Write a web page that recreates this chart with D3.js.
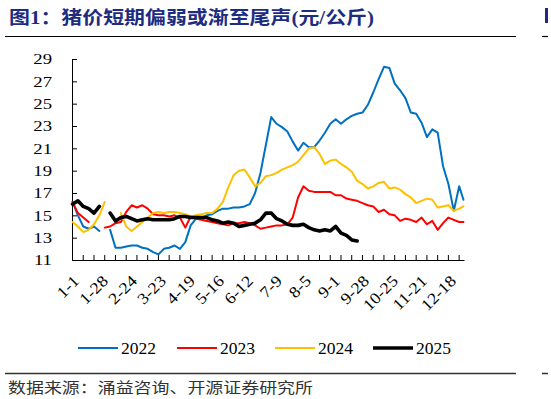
<!DOCTYPE html>
<html>
<head>
<meta charset="utf-8">
<script src="https://cdn.jsdelivr.net/npm/d3@7"></script>
<style>
  body { margin: 0; background: #fff; }
  svg { display: block; }
</style>
</head>
<body>
<div class="chart"></div>
<script>
// sampled day-of-year (0 = 1-1), every 5 days
var days = [0,5,10,15,20,25,30,35,40,45,50,55,60,65,70,75,80,85,90,95,100,105,110,115,120,125,130,135,140,145,150,155,160,165,170,175,180,185,190,195,200,205,210,215,220,225,230,235,240,245,250,255,260,265,270,275,280,285,290,295,300,305,310,315,320,325,330,335,340,345,350,355,360,364];

var y2022 = [16.2,15.0,14.0,13.8,14.0,13.6,null,13.7,12.1,12.1,12.2,12.3,12.3,12.1,12.0,11.7,11.5,12.0,12.1,12.3,12.0,12.6,14.1,14.7,14.8,15.0,15.1,15.4,15.6,15.6,15.7,15.7,15.8,16.0,17.0,18.8,21.3,23.8,23.2,22.9,22.5,21.6,20.8,21.5,21.1,21.1,21.7,22.4,23.2,23.6,23.2,23.6,23.9,24.1,24.2,24.9,26.0,27.2,28.3,28.2,26.8,26.2,25.5,24.2,24.1,23.3,22.0,22.7,22.4,19.4,17.8,15.4,17.6,16.4];
var y2023 = [16.2,15.2,14.8,14.4,null,null,13.9,14.0,14.3,14.4,15.3,15.9,15.7,15.9,15.6,15.1,15.0,15.0,14.9,15.0,14.8,13.9,14.9,14.7,14.6,14.5,14.4,14.3,14.2,14.1,14.3,14.3,14.4,14.3,14.1,13.8,13.9,14.0,14.1,14.1,14.2,14.8,16.6,17.6,17.2,17.1,17.1,17.1,17.1,16.8,16.8,16.5,16.4,16.3,16.1,15.9,15.8,15.3,15.5,15.1,15.0,14.5,14.7,14.6,14.4,14.8,14.2,14.5,13.7,14.3,14.8,14.6,14.4,14.4];
var y2024 = [14.4,14.0,13.5,13.7,14.2,15.0,16.2,null,null,15.2,14.0,13.6,14.0,14.4,14.8,15.2,15.3,15.2,15.3,15.3,15.2,15.1,14.9,15.0,15.1,15.2,15.2,15.6,16.2,17.5,18.6,19.0,19.1,18.4,17.6,17.9,18.5,18.6,18.8,19.1,19.3,19.5,19.8,20.4,21.0,21.1,20.5,19.6,19.9,20.0,19.6,19.3,18.9,18.1,17.8,17.4,17.6,17.9,18.0,17.4,17.5,17.3,16.9,16.6,16.1,16.3,16.5,16.4,15.7,15.8,15.9,15.4,15.6,15.8];
var y2025 = [16.0,16.3,15.8,15.6,15.2,15.8,null,15.2,14.5,14.8,14.9,14.7,14.5,14.6,14.7,14.6,14.6,14.6,14.6,14.7,14.9,14.9,14.8,14.8,14.8,14.8,14.6,14.5,14.3,14.4,14.3,14.0,14.1,14.2,14.3,14.6,15.2,15.2,14.7,14.5,14.2,14.1,14.1,14.2,13.9,13.7,13.6,13.7,13.6,14.0,13.4,13.2,12.8,12.7,null,null,null,null,null,null,null,null,null,null,null,null,null,null,null,null,null,null,null,null];

var seriesNames = ["2022", "2023", "2024", "2025"];
var seriesColors = ["#0070C0", "#FF0000", "#FFC000", "#000000"];
var seriesWidths = [2, 2, 2, 3.6];

var tickDays = [0,27,54,81,108,135,162,189,216,243,270,297,324,351];
var tickLabels = ["1-1","1-28","2-24","3-23","4-19","5-16","6-12","7-9","8-5","9-1","9-28","10-25","11-21","12-18"];
var yTicks = [11,13,15,17,19,21,23,25,27,29];

var titleText = "图1：猪价短期偏弱或渐至尾声(元/公斤)";
var sourceText = "数据来源：涌益咨询、开源证券研究所";

var serif = "'Liberation Serif', 'Times New Roman', serif";
var cjk = "'Liberation Serif', 'Noto Sans CJK SC', sans-serif";

var W = 551, H = 399;
var plot = {left: 72, right: 464, top: 59, bottom: 260};

var svg = d3.select(".chart").append("svg")
    .attr("width", W).attr("height", H)
    .style("background", "#fff");

function stretch(sel, k) {
    sel.each(function () {
        var w = this.getComputedTextLength();
        d3.select(this).attr("textLength", w * k).attr("lengthAdjust", "spacingAndGlyphs");
    });
}

// title
svg.append("text")
    .attr("x", 9).attr("y", 24)
    .attr("fill", "#1E2C80")
    .style("font-family", cjk)
    .style("font-weight", "bold")
    .style("font-size", "18px")
    .attr("textLength", 365).attr("lengthAdjust", "spacingAndGlyphs")
    .text(titleText);

svg.append("line").attr("x1", 5).attr("x2", 516).attr("y1", 36.5).attr("y2", 36.5)
    .attr("stroke", "#000").attr("stroke-width", 1.2);
// sliver of the neighbouring column
svg.append("rect").attr("x", 545).attr("y", 8).attr("width", 3).attr("height", 15).attr("fill", "#1E2C80");
svg.append("line").attr("x1", 542).attr("x2", 548).attr("y1", 36.5).attr("y2", 36.5).attr("stroke", "#000").attr("stroke-width", 1.2);
svg.append("line").attr("x1", 542).attr("x2", 548).attr("y1", 373.5).attr("y2", 373.5).attr("stroke", "#333").attr("stroke-width", 1.5);

// scales
var x = d3.scaleLinear().domain([0, 365]).range([plot.left, plot.right]);
var y = d3.scaleLinear().domain([11, 29]).range([plot.bottom, plot.top]);

// y axis, ticks pointing inward
var yAxis = d3.axisLeft(y).tickValues(yTicks).tickSize(-5).tickPadding(20).tickFormat(d3.format("d"));
var y_g = svg.append("g").attr("transform", "translate(" + plot.left + ",0)").call(yAxis);
y_g.selectAll("path, line").attr("stroke", "#000").attr("stroke-width", 1);
y_g.selectAll("text")
    .style("font-family", serif).style("font-size", "15px").attr("fill", "#000")
    .call(stretch, 1.25);

// x axis ticks every 10 days
var xTickVals = d3.range(0, 361, 10);
var xAxis = d3.axisBottom(x).tickValues(xTickVals).tickSize(-5).tickSizeOuter(0).tickFormat("");
var x_g = svg.append("g").attr("transform", "translate(0," + plot.bottom + ")").call(xAxis);
x_g.selectAll("path, line").attr("stroke", "#000").attr("stroke-width", 1);

// x labels
var xLab = d3.axisBottom(x).tickValues(tickDays.map(function (d) { return d + 0.5; }))
    .tickSize(0).tickFormat(function (d, i) { return tickLabels[i]; });
var xl_g = svg.append("g").attr("transform", "translate(0," + plot.bottom + ")").call(xLab);
xl_g.select(".domain").remove();
xl_g.selectAll("text")
    .style("font-family", serif).style("font-size", "16px").attr("fill", "#000")
    .style("text-anchor", "end")
    .attr("dy", null).attr("y", 0)
    .attr("transform", "translate(7,22) rotate(-45)")
    .call(stretch, 1.12);

// lines
var seriesValues = [y2022, y2023, y2024, y2025];
var line = d3.line()
    .defined(function (d) { return d[1] != null; })
    .x(function (d) { return x(d[0] + 0.5); })
    .y(function (d) { return y(d[1]); });

seriesValues.forEach(function (vals, i) {
    var pts = days.map(function (d, j) { return [d, vals[j]]; });
    svg.append("path")
        .datum(pts)
        .attr("d", line)
        .attr("fill", "none")
        .attr("stroke", seriesColors[i])
        .attr("stroke-width", seriesWidths[i])
        .attr("stroke-linejoin", "round")
        .attr("stroke-linecap", "round");
});

// legend
var legX = [78, 177, 275, 373];
var leg = svg.append("g").attr("transform", "translate(0,348)");
seriesNames.forEach(function (name, i) {
    leg.append("line")
        .attr("x1", legX[i]).attr("x2", legX[i] + 40)
        .attr("y1", 0).attr("y2", 0)
        .attr("stroke", seriesColors[i])
        .attr("stroke-width", i === 3 ? 3.6 : 2.2);
    leg.append("text")
        .attr("x", legX[i] + 43).attr("y", 5.5)
        .style("font-family", serif).style("font-size", "16px")
        .attr("textLength", 35).attr("lengthAdjust", "spacingAndGlyphs")
        .text(name);
});

// source
svg.append("line").attr("x1", 5).attr("x2", 516).attr("y1", 373.5).attr("y2", 373.5)
    .attr("stroke", "#333").attr("stroke-width", 1.5);
svg.append("text")
    .attr("x", 8).attr("y", 393)
    .attr("fill", "#333")
    .style("font-family", "'Noto Sans CJK SC', sans-serif")
    .style("font-size", "15px")
    .attr("textLength", 305).attr("lengthAdjust", "spacingAndGlyphs")
    .text(sourceText);
</script>
</body>
</html>
